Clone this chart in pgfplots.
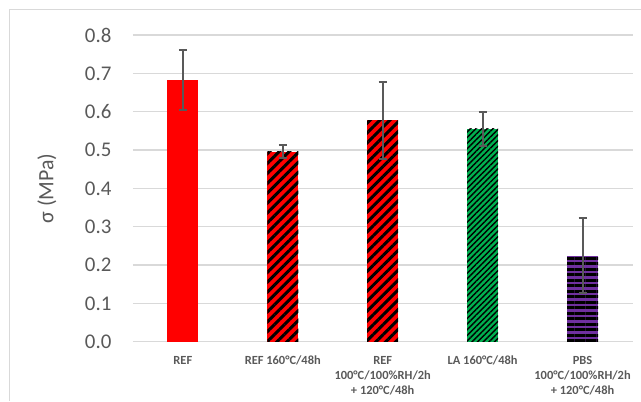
\documentclass[border=0pt]{standalone}
\usepackage{fontspec}
\setmainfont{Carlito}
\usepackage{pgfplots}
\pgfplotsset{compat=1.18}
\usetikzlibrary{patterns.meta}
\definecolor{txt}{HTML}{595959}
\definecolor{grd}{HTML}{D9D9D9}
\definecolor{exred}{HTML}{FF0000}
\definecolor{exgreen}{HTML}{00B050}
\definecolor{expurple}{HTML}{7030A0}
\begin{document}
\begin{tikzpicture}
\begin{axis}[
  at={(0,0)}, anchor=south west,
  scale only axis, width=500bp, height=307bp,
  xmin=-0.5, xmax=4.5, ymin=0, ymax=0.8,
  ybar, bar width=31bp,
  ytick={0,0.1,...,0.8},
  xtick={0,1,2,3,4},
  xticklabels={REF, REF 160°C/48h, {REF\\100°C/100\%RH/2h\\+ 120°C/48h}, LA 160°C/48h, {PBS\\100°C/100\%RH/2h\\+ 120°C/48h}},
  xticklabel style={font=\fontsize{12.5}{15.2}\selectfont\bfseries, text=txt, align=center, yshift=-11bp},
  yticklabel style={font=\fontsize{21}{24}\selectfont, text=txt, xshift=-18bp},
  /pgf/number format/assume math mode=true,
  /pgf/number format/.cd, fixed, fixed zerofill, precision=1, /pgfplots/.cd,
  major tick length=0pt,
  ymajorgrids, grid style={grd, line width=1.2bp},
  axis line style={draw=none},
  ylabel={σ (MPa)},
  every axis y label/.style={at={([xshift=-86bp]axis description cs:0,0.5)}, rotate=90, anchor=center, font=\fontsize{22}{26}\selectfont, text=txt},
  error bars/y dir=both, error bars/y explicit,
  error bars/error bar style={draw=txt, line width=2bp, solid},
  error bars/error mark options={rotate=90, mark size=4bp, line width=2bp, draw=txt},
]
\addplot[bar shift=0pt, fill=exred, draw=none] coordinates {(0,0.683) +- (0,0.079)};
\addplot[bar shift=0pt, fill=exred, draw=none, postaction={pattern={Lines[angle=45,distance=7bp,line width=3bp]}, pattern color=black}] coordinates {(1,0.496) +- (0,0.017)};
\addplot[bar shift=0pt, fill=exred, draw=none, postaction={pattern={Lines[angle=45,distance=7bp,line width=3bp]}, pattern color=black}] coordinates {(2,0.577) +- (0,0.101)};
\addplot[bar shift=0pt, fill=exgreen, draw=none, postaction={pattern={Lines[angle=45,distance=4bp,line width=1.4bp]}, pattern color=black}] coordinates {(3,0.555) +- (0,0.045)};
\addplot[bar shift=0pt, fill=expurple, draw=none, postaction={pattern={Lines[angle=0,distance=5.5bp,line width=2.6bp]}, pattern color=black}] coordinates {(4,0.224) +- (0,0.098)};
\end{axis}
\draw[grd, line width=1bp] (-123bp,-59bp) -- (-123bp,332bp) -- (508bp,332bp);
\useasboundingbox (-133bp,-59bp) rectangle (508bp,342bp);
\end{tikzpicture}
\end{document}
